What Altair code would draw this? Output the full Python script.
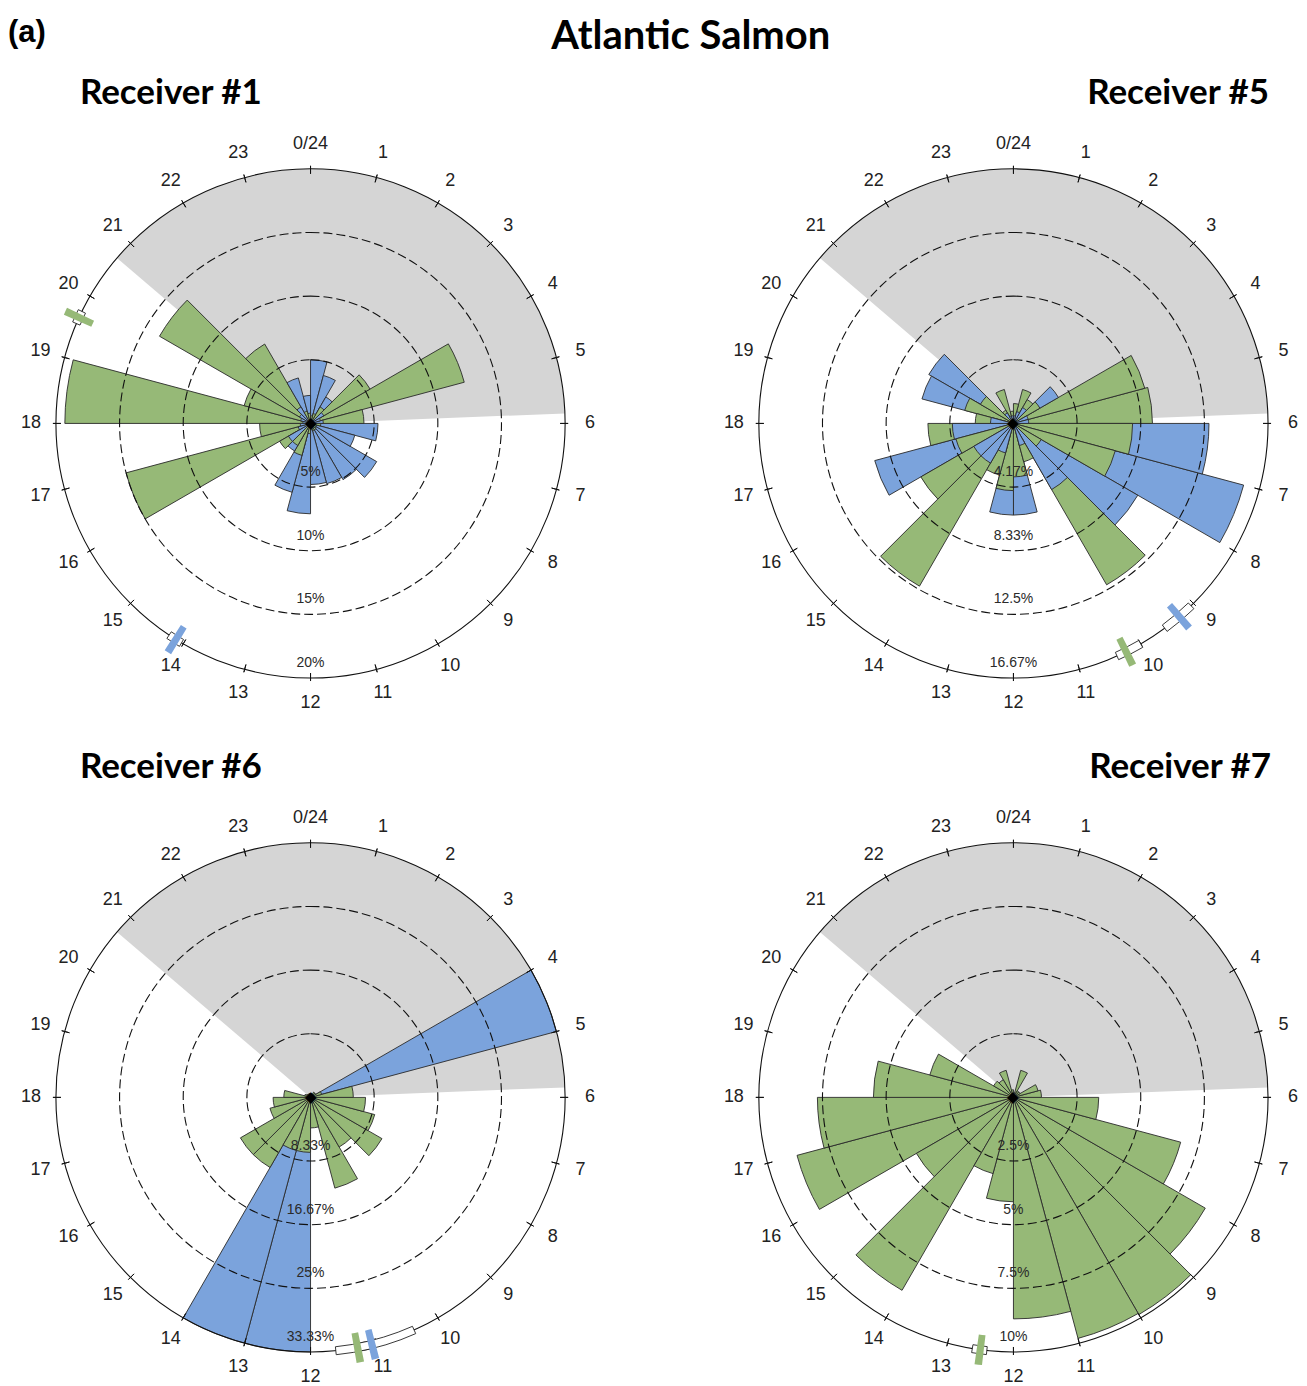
import math
import altair as alt
import pandas as pd

# ---------------- data ----------------
HOURS = list(range(24))
HOUR_LABELS = ["0/24"] + [str(h) for h in range(1, 24)]

NIGHT_START = 20.7   # hour where the grey (night) sector starts
NIGHT_END = 5.85     # hour where it ends

# Receiver #1  (% of detections per hour)
R1_GREEN = [0.6, 0.8, 1.5, 5.4, 12.5, 4.2, 0.8, 0.5, 0.5, 0.6, 0.6, 0.5,
            0.8, 2.6, 2.0, 2.8, 15.0, 4.0, 19.3, 5.4, 13.7, 7.2, 1.0, 0.8]
R1_BLUE = [5.0, 3.9, 2.4, 1.2, 0.8, 1.0, 5.3, 3.6, 6.0, 5.1, 4.9, 4.8,
           7.1, 5.6, 2.5, 2.0, 1.0, 0.8, 0.6, 0.8, 1.0, 1.5, 3.7, 2.2]
R1_RINGS = [5, 10, 15, 20]
R1_RING_LABELS = ["5%", "10%", "15%", "20%"]
R1_MEANS = [("green", 19.64, 19.54, 19.74), ("blue", 14.13, 14.03, 14.25)]

# Receiver #5
R5_GREEN = [1.3, 2.3, 1.8, 2.0, 8.9, 9.1, 7.8, 6.9, 2.1, 12.2, 2.6, 3.5,
            4.4, 3.5, 12.3, 7.0, 3.9, 5.6, 2.5, 3.3, 2.5, 1.0, 2.3, 0.8]
R5_BLUE = [0.5, 0.8, 1.2, 3.4, 1.0, 1.0, 12.8, 15.6, 9.4, 5.0, 1.5, 6.0,
           6.0, 2.0, 3.0, 3.0, 9.4, 4.0, 1.5, 6.2, 6.4, 0.8, 0.5, 0.5]
R5_RINGS = [4.1667, 8.3333, 12.5, 16.6667]
R5_RING_LABELS = ["4.17%", "8.33%", "12.5%", "16.67%"]
R5_MEANS = [("blue", 9.29, 9.05, 9.57), ("green", 10.25, 10.0, 10.4)]

# Receiver #6
R6_GREEN = [0.5, 0.5, 0.8, 0.8, 1.5, 5.6, 7.2, 8.7, 10.8, 7.5, 12.3, 4.0,
            7.2, 7.2, 10.6, 10.6, 5.5, 4.9, 3.5, 0.8, 0.6, 0.5, 0.5, 0.5]
R6_BLUE = [0, 0, 0, 0, 33.33, 0, 0, 0, 0, 0, 0, 0,
           33.33, 33.33, 0, 0, 0, 0, 0, 0, 0, 0, 0, 0]
R6_RINGS = [8.3333, 16.6667, 25, 33.3333]
R6_RING_LABELS = ["8.33%", "16.67%", "25%", "33.33%"]
R6_MEANS = [("blue", 11.07, 10.4, 11.34), ("green", 11.29, 11.1, 11.62)]

# Receiver #7
R7_GREEN = [0.2, 1.1, 0.3, 0.3, 1.0, 1.1, 3.35, 6.8, 8.7, 9.85, 9.8, 8.7,
            4.1, 3.1, 8.75, 4.4, 8.8, 7.7, 5.5, 3.4, 0.9, 0.8, 1.1, 0.3]
R7_BLUE = [0] * 24
R7_RINGS = [2.5, 5, 7.5, 10]
R7_RING_LABELS = ["2.5%", "5%", "7.5%", "10%"]
R7_MEANS = [("green", 12.5, 12.4, 12.62)]

# ---------------- style ----------------
GREEN = "#96b977"
BLUE = "#7ba3dc"
GREY = "#d5d5d5"
W = 556          # panel plot size
R = 255          # outer circle radius in px
LABEL_FONT = "Liberation Sans"
TITLE_FONT = "Lato"

THETA_SCALE = alt.Scale(domain=[0, 24], range=[0, 2 * math.pi])
COLOR_SCALE = alt.Scale(domain=["blue", "green"], range=[BLUE, GREEN])


def th(field):
    return alt.Theta(f"{field}:Q", scale=THETA_SCALE, stack=False)


def panel(title, anchor, dx, green, blue, rings, ring_labels, means):
    rmax = rings[-1]
    rs = alt.Scale(type="linear", domain=[0, rmax], range=[0, R], zero=True)

    def rad(field):
        return alt.Radius(f"{field}:Q", scale=rs)

    night = alt.Chart(pd.DataFrame({"t0": [NIGHT_START], "t1": [NIGHT_END + 24], "r": [rmax]})).mark_arc(
        color=GREY
    ).encode(theta=th("t0"), theta2="t1", radius=rad("r"))

    rows = []
    for h in HOURS:
        for s, vals in (("blue", blue), ("green", green)):
            if vals[h] > 0:
                rows.append({"t0": h, "t1": h + 1, "v": vals[h], "s": s})
    bar_df = pd.DataFrame(rows).sort_values("v", ascending=False, kind="stable")
    bars = alt.Chart(bar_df).mark_arc(stroke="#2a2a2a", strokeWidth=0.9).encode(
        theta=th("t0"), theta2="t1", radius=rad("v"),
        color=alt.Color("s:N", scale=COLOR_SCALE, legend=None),
    )

    dashed = alt.Chart(pd.DataFrame({"t0": 0, "t1": 24, "r": rings[:-1]})).mark_arc(
        filled=False, color="#111111", strokeWidth=1.1, strokeDash=[9, 4]
    ).encode(theta=th("t0"), theta2="t1", radius=rad("r"))

    outer = alt.Chart(pd.DataFrame({"t0": [0], "t1": [24], "r": [rmax]})).mark_arc(
        filled=False, color="#111111", strokeWidth=1.1
    ).encode(theta=th("t0"), theta2="t1", radius=rad("r"))

    ticks = alt.Chart(pd.DataFrame({"t": HOURS, "r": rmax})).mark_arc(
        filled=False, color="#111111", strokeWidth=1, radiusOffset=3, radius2Offset=-5
    ).encode(theta=th("t"), theta2="t", radius=rad("r"), radius2="r")

    hour_txt = alt.Chart(pd.DataFrame({"t": HOURS, "r": rmax, "lab": HOUR_LABELS})).mark_text(
        radiusOffset=25, fontSize=18, font=LABEL_FONT, color="#222222", baseline="middle", align="center"
    ).encode(theta=th("t"), radius=rad("r"), text="lab:N")

    ring_txt = alt.Chart(pd.DataFrame({"t": 12, "r": rings, "lab": ring_labels})).mark_text(
        radiusOffset=-15, fontSize=14, font=LABEL_FONT, color="#2a2a2a", baseline="middle", align="center"
    ).encode(theta=th("t"), radius=rad("r"), text="lab:N")

    mean_df = pd.DataFrame({
        "s": [m[0] for m in means], "m": [m[1] for m in means],
        "lo": [m[2] for m in means], "hi": [m[3] for m in means], "r": rmax,
    })
    ci = alt.Chart(mean_df).mark_arc(
        fill="white", stroke="#222222", strokeWidth=0.9, radiusOffset=4, radius2Offset=-4
    ).encode(theta=th("lo"), theta2="hi", radius=rad("r"), radius2="r")
    mbar = alt.Chart(mean_df).mark_arc(
        thetaOffset=-0.014, theta2Offset=0.014, radiusOffset=15, radius2Offset=-15
    ).encode(theta=th("m"), theta2="m", radius=rad("r"), radius2="r",
             color=alt.Color("s:N", scale=COLOR_SCALE, legend=None))

    centre = alt.Chart(pd.DataFrame({"t": [0], "r": [0]})).mark_text(
        text="\u25c6", fontSize=15, color="black", baseline="middle", align="center"
    ).encode(theta=th("t"), radius=rad("r"))

    return alt.layer(night, bars, dashed, outer, ticks, hour_txt, ring_txt, ci, mbar, centre).properties(
        width=W, height=W,
        title=alt.Title(title, anchor=anchor, frame="group", dx=dx, offset=24,
                        fontSize=35, font=TITLE_FONT, fontWeight="bold", color="black"),
    )


p1 = panel("Receiver #1", "start", 47, R1_GREEN, R1_BLUE, R1_RINGS, R1_RING_LABELS, R1_MEANS)
p5 = panel("Receiver #5", "end", -22, R5_GREEN, R5_BLUE, R5_RINGS, R5_RING_LABELS, R5_MEANS)
p6 = panel("Receiver #6", "start", 47, R6_GREEN, R6_BLUE, R6_RINGS, R6_RING_LABELS, R6_MEANS)
p7 = panel("Receiver #7", "end", -20, R7_GREEN, R7_BLUE, R7_RINGS, R7_RING_LABELS, R7_MEANS)

grid = alt.concat(
    p1, p5, p6, p7, columns=2, spacing={"row": 119, "column": 148}, bounds="flush",
    title=alt.Title("Atlantic Salmon", anchor="start", frame="group", dx=519, offset=19,
                    fontSize=40, font=TITLE_FONT, fontWeight="bold", color="black"),
).resolve_scale(theta="independent", radius="independent")

chart = alt.vconcat(
    grid,
    title=alt.Title("(a)", anchor="start", frame="group", dx=-25, dy=32, offset=0,
                    fontSize=31, font=LABEL_FONT, fontWeight="bold", color="black"),
).resolve_scale(theta="independent", radius="independent").properties(
    padding={"top": 8, "left": 0, "right": 0, "bottom": 0}, background="white"
).configure_view(strokeWidth=0)

chart.save("out.html", embed_options={"renderer": "svg", "actions": False})
